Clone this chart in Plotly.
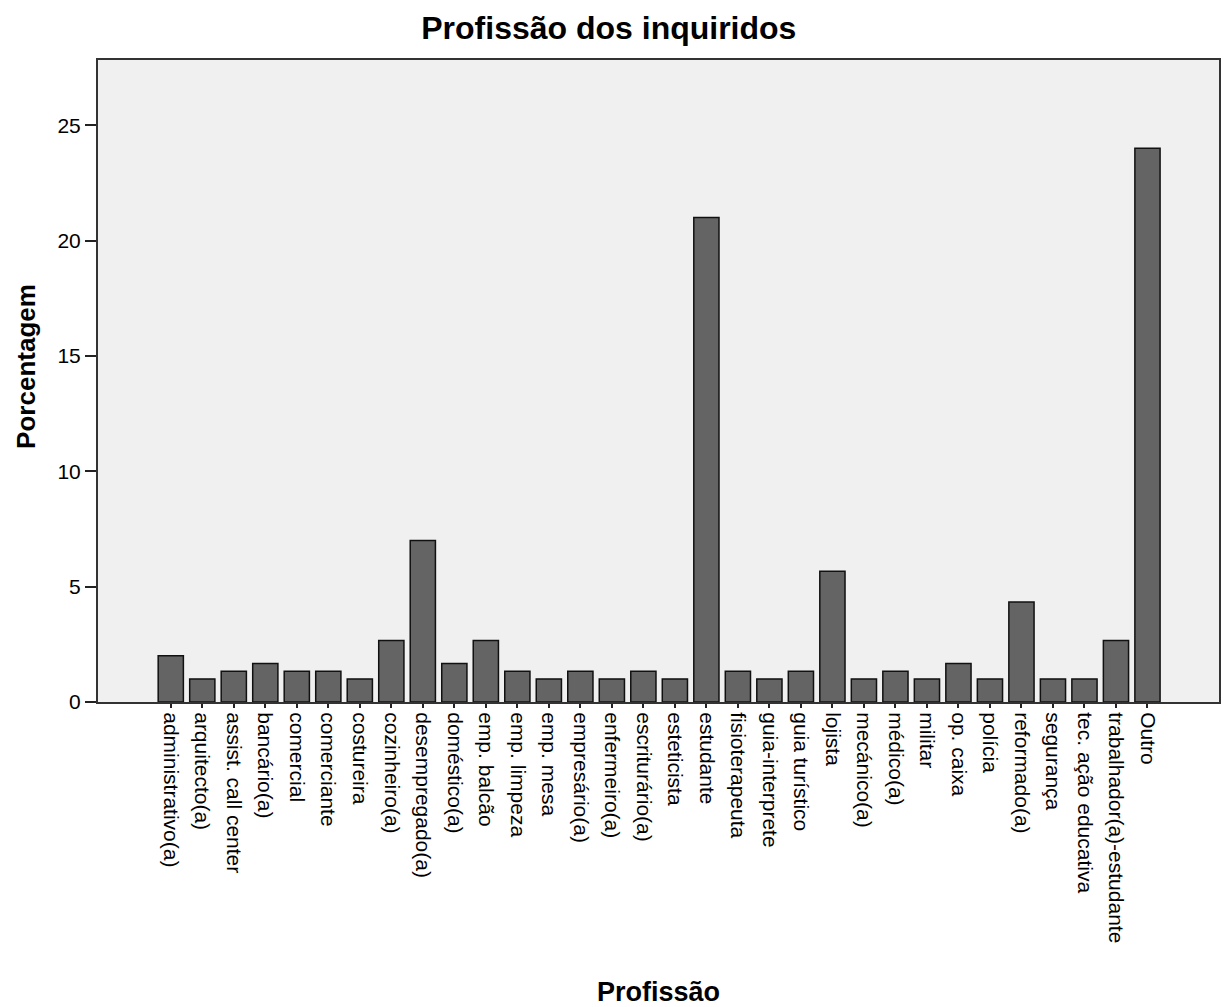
import plotly.graph_objects as go

profissoes = [
    "administrativo(a)", "arquitecto(a)", "assist. call center", "bancário(a)",
    "comercial", "comerciante", "costureira", "cozinheiro(a)", "desempregado(a)",
    "doméstico(a)", "emp. balcão", "emp. limpeza", "emp. mesa", "empresário(a)",
    "enfermeiro(a)", "escriturário(a)", "esteticista", "estudante", "fisioterapeuta",
    "guia-interprete", "guia turístico", "lojista", "mecánico(a)", "médico(a)",
    "militar", "op. caixa", "polícia", "reformado(a)", "segurança",
    "tec. ação educativa", "trabalhador(a)-estudante", "Outro",
]
porcentagem = [
    2.0, 1.0, 1.33, 1.67, 1.33, 1.33, 1.0, 2.67, 7.0,
    1.67, 2.67, 1.33, 1.0, 1.33, 1.0, 1.33, 1.0, 21.0, 1.33,
    1.0, 1.33, 5.67, 1.0, 1.33, 1.0, 1.67, 1.0, 4.33, 1.0,
    1.0, 2.67, 24.0,
]
y_ticks = [0, 5, 10, 15, 20, 25]

font = "Liberation Sans, Arial, sans-serif"

fig = go.Figure(go.Bar(
    x=list(range(len(profissoes))),
    y=porcentagem,
    marker=dict(color="#646464", line=dict(color="#111111", width=1.5)),
    width=0.8,
))

fig.update_layout(
    width=1225, height=1007,
    margin=dict(l=98, r=6, t=60, b=305),
    paper_bgcolor="white",
    plot_bgcolor="#F0F0F0",
    showlegend=False,
    font=dict(family=font, color="#000000", size=21),
    title=dict(text="<b>Profissão dos inquiridos</b>", x=0.497, xref="container",
               xanchor="center", y=0.972, yanchor="middle",
               font=dict(size=32, family=font, color="#000")),
)

# titulo do eixo y como anotacao para acertar a posicao
fig.add_annotation(
    text="<b>Porcentagem</b>", textangle=-90,
    xref="paper", yref="paper", x=0, y=0.522,
    xanchor="center", yanchor="middle", xshift=-72,
    showarrow=False, font=dict(size=26, family=font, color="#000"),
)

fig.update_xaxes(
    tickmode="array",
    tickvals=list(range(len(profissoes))),
    ticktext=profissoes,
    tickangle=90,
    range=[-2.31, 33.27],
    automargin=False,
    showgrid=False, zeroline=False,
    showline=True, mirror=True, linecolor="#333333", linewidth=2,
    ticks="outside", ticklen=4, tickcolor="#222222", tickwidth=1.5,
    tickfont=dict(size=21, family=font, color="#000"),
    title=dict(text="<b>Profissão</b>", font=dict(size=27, family=font, color="#000"),
               standoff=40),
)

fig.update_yaxes(
    tickmode="array",
    tickvals=y_ticks,
    range=[0, 27.83],
    automargin=False,
    showgrid=False, zeroline=False,
    showline=True, mirror=True, linecolor="#333333", linewidth=2,
    ticks="outside", ticklen=11, tickcolor="#222222", tickwidth=1.5,
    tickfont=dict(size=21, family=font, color="#000"),
)

fig.write_html("out.html", config={"displayModeBar": False},
               post_script="document.body.style.margin='0';")
